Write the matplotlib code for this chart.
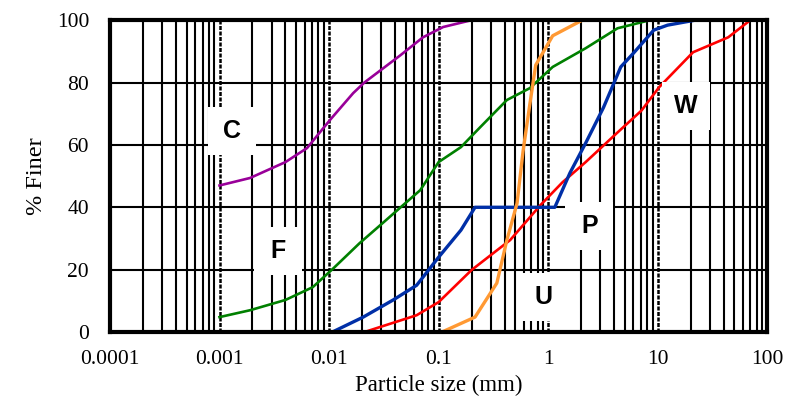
import matplotlib.pyplot as plt
import numpy as np
from matplotlib.patches import Rectangle
from matplotlib.transforms import ScaledTranslation

# grading curves (size in mm, % finer)
c_size = [0.001, 0.0019, 0.004, 0.0063, 0.0102, 0.0166, 0.021, 0.045, 0.072, 0.11, 0.2]
c_finer = [47, 49.4, 54.5, 59, 68, 76.6, 80, 88.8, 94.5, 97.8, 100]

f_size = [0.001, 0.0019, 0.004, 0.0071, 0.011, 0.019, 0.031, 0.045, 0.068, 0.1,
          0.16, 0.24, 0.42, 0.68, 1.1, 2.2, 4.3, 8.5]
f_finer = [4.8, 7, 10.3, 14.4, 20.5, 28.5, 35, 40, 45.5, 54.5,
           59.3, 65.7, 74.4, 78.2, 85, 91, 97.4, 100]

p_size = [0.0107, 0.0205, 0.0385, 0.063, 0.1, 0.16, 0.215, 1.15, 1.58, 2.2,
          3.2, 4.6, 6.0, 9.2, 12.3, 22]
p_finer = [0, 4.8, 10.3, 15, 24, 32.7, 40, 40, 51, 60.6,
           72, 85, 89.4, 96.8, 98.4, 100]

u_size = [0.107, 0.215, 0.34, 0.42, 0.52, 0.59, 0.68, 0.77, 1.1, 2.05]
u_finer = [0, 4.8, 15.7, 29.5, 41.3, 58, 73, 85.6, 95, 100]

w_size = [0.021, 0.063, 0.1, 0.2, 0.45, 0.85, 1.35, 2.2, 4.3, 7.1, 10.3, 21, 44, 70]
w_finer = [0, 5.4, 9.6, 19.9, 29.5, 40.7, 48, 54.5, 64, 71, 78.5, 89.7, 94.5, 100]

curves = [
    (c_size, c_finer, "#990099", 1.9),
    (f_size, f_finer, "#008000", 1.9),
    (w_size, w_finer, "#ff0000", 1.9),
    (p_size, p_finer, "#002fa7", 2.4),
    (u_size, u_finer, "#ff9933", 2.4),
]

# label text and its centre (size, % finer)
labels = ["C", "F", "W", "P", "U"]
label_x = [0.0013, 0.0034, 18.2, 2.37, 0.9]
label_y = [64.5, 26, 72.4, 34, 11.2]

tick_labels = ["0.0001", "0.001", "0.01", "0.1", "1", "10", "100"]

fig = plt.figure(figsize=(7.91, 4.03), dpi=100)
ax = fig.add_axes([0.139, 0.176, 0.831, 0.774])

ax.set_xscale("log")
ax.set_xlim(1e-4, 100)
ax.set_ylim(0, 100)

decades = 10.0 ** np.arange(-4, 3)
minors = [d * k for d in decades[:-1] for k in range(2, 10)]
for x in minors:
    ax.axvline(x, color="black", lw=1.5, zorder=1)
for x in decades[1:-1]:
    ax.axvline(x, color="black", lw=1.8, ls=(0, (1.6, 0.6)), zorder=1)
for y in [20, 40, 60, 80]:
    ax.axhline(y, color="black", lw=1.5, zorder=1)

for xs, ys, col, lw in curves:
    ax.plot(xs, ys, color=col, lw=lw, zorder=3)

# white square label boxes, 0.48 in wide, centred on each label
for text, lx, ly in zip(labels, label_x, label_y):
    tr = fig.dpi_scale_trans + ScaledTranslation(lx, ly, ax.transData)
    ax.add_patch(Rectangle((-0.24, -0.24), 0.48, 0.48, transform=tr,
                           fc="white", ec="none", zorder=5, clip_on=False))
    ax.text(lx, ly, text, ha="center", va="center", fontsize=18, fontweight="bold",
            family="Liberation Sans", zorder=6)

ax.set_xticks(decades)
ax.set_xticklabels(tick_labels)
ax.minorticks_off()
ax.set_yticks([0, 20, 40, 60, 80, 100])
ax.tick_params(axis="x", length=0, labelsize=15.5, pad=13)
ax.tick_params(axis="y", length=0, labelsize=15.5, pad=15)
for lab in ax.get_xticklabels() + ax.get_yticklabels():
    lab.set_family("Liberation Serif")

ax.set_xlabel("Particle size (mm)", family="Liberation Serif", fontsize=16.5, labelpad=4)
ax.set_ylabel("% Finer", family="Liberation Serif", fontsize=17.5, labelpad=7)

for sp in ax.spines.values():
    sp.set_linewidth(3)
    sp.set_zorder(7)

fig.savefig("out.png", dpi=100)
